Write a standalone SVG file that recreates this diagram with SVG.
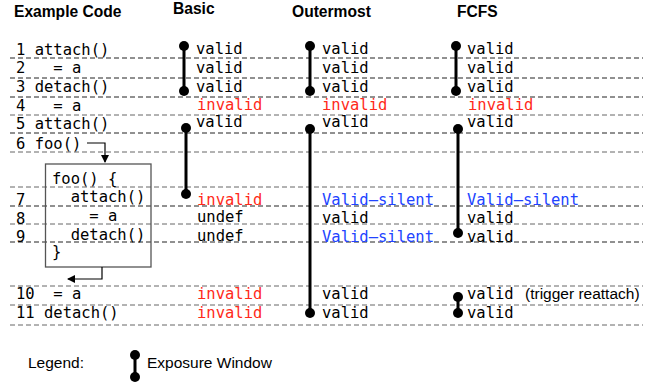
<svg xmlns="http://www.w3.org/2000/svg" width="653" height="383" viewBox="0 0 653 383">
<style>
.hd{font-family:"Liberation Sans",Arial,sans-serif;font-weight:bold;font-size:15.6px;fill:#000}
.sn{font-family:"Liberation Sans",Arial,sans-serif;font-size:15.5px;fill:#000}
.m{font-family:"DejaVu Sans Mono",monospace;font-size:15.5px;fill:#000;white-space:pre}
.r{fill:#ff2a1a}
.b{fill:#2244ff}
.dk{stroke:#222;stroke-width:1;stroke-dasharray:5,3;fill:none}
.gr{stroke:#666;stroke-width:1;stroke-dasharray:5,3;fill:none}
.win{stroke:#000;stroke-width:3;fill:none}
.dot{fill:#000}
.arr{stroke:#000;stroke-width:1.2;fill:none}
</style>
<defs>
<marker id="ah" markerWidth="8" markerHeight="8" refX="7" refY="4" orient="auto" markerUnits="userSpaceOnUse">
<path d="M0,0 L8,4 L0,8 z" fill="#000"/>
</marker>
</defs>
<rect width="653" height="383" fill="#fff"/>

<g id="headers">
<text class="hd" x="14" y="17">Example Code</text>
<text class="hd" x="173" y="14">Basic</text>
<text class="hd" x="292" y="17">Outermost</text>
<text class="hd" x="457" y="17">FCFS</text>
</g>

<g id="rowlines">
<line class="dk" x1="10" y1="58" x2="643" y2="58"/>
<line class="dk" x1="10" y1="78" x2="643" y2="78"/>
<line class="dk" x1="10" y1="97" x2="643" y2="97"/>
<line class="gr" x1="10" y1="115" x2="643" y2="115"/>
<line class="dk" x1="10" y1="133" x2="643" y2="133"/>
<line class="gr" x1="10" y1="152" x2="643" y2="152"/>
<line class="gr" x1="10" y1="187" x2="643" y2="187"/>
<line class="dk" x1="10" y1="206" x2="643" y2="206"/>
<line class="gr" x1="10" y1="224" x2="643" y2="224"/>
<line class="dk" x1="10" y1="242" x2="643" y2="242"/>
<line class="gr" x1="10" y1="286" x2="643" y2="286"/>
<line class="gr" x1="10" y1="305" x2="643" y2="305"/>
<line class="gr" x1="10" y1="325" x2="643" y2="325"/>
</g>

<g id="code">
<text class="m" x="16" y="55">1 attach()</text>
<text class="m" x="16" y="73">2   = a</text>
<text class="m" x="16" y="92">3 detach()</text>
<text class="m" x="16" y="111">4   = a</text>
<text class="m" x="16" y="129">5 attach()</text>
<text class="m" x="16" y="149">6 foo()</text>
<text class="m" x="16" y="205">7</text>
<text class="m" x="16" y="224">8</text>
<text class="m" x="16" y="242">9</text>
<text class="m" x="16" y="299">10  = a</text>
<text class="m" x="16" y="318">11 detach()</text>
</g>

<g id="foo-box">
<rect x="45.5" y="164" width="105.5" height="103" fill="none" stroke="#555" stroke-width="1.3"/>
<text class="m" x="52" y="184">foo() {</text>
<text class="m" x="52" y="202">  attach()</text>
<text class="m" x="52" y="221">    = a</text>
<text class="m" x="52" y="240">  detach()</text>
<text class="m" x="52" y="257">}</text>
</g>

<g id="connectors">
<path class="arr" d="M87,143 H105 V162" marker-end="url(#ah)"/>
<path class="arr" d="M102,267 V279 H68" marker-end="url(#ah)"/>
</g>

<g id="basic">
<line class="win" x1="184" y1="46" x2="184" y2="91"/>
<circle class="dot" cx="184" cy="46" r="5"/>
<circle class="dot" cx="184" cy="91" r="5"/>
<line class="win" x1="186" y1="128" x2="186" y2="194"/>
<circle class="dot" cx="186" cy="128" r="5"/>
<circle class="dot" cx="186" cy="194" r="5"/>
<text class="m" x="196" y="54">valid</text>
<text class="m" x="196" y="73">valid</text>
<text class="m" x="196" y="92">valid</text>
<text class="m r" x="197" y="110">invalid</text>
<text class="m" x="196" y="127">valid</text>
<text class="m r" x="197" y="205">invalid</text>
<text class="m" x="197" y="222">undef</text>
<text class="m" x="197" y="241">undef</text>
<text class="m r" x="197" y="299">invalid</text>
<text class="m r" x="197" y="318">invalid</text>
</g>

<g id="outermost">
<line class="win" x1="310" y1="46" x2="310" y2="91"/>
<circle class="dot" cx="310" cy="46" r="5"/>
<circle class="dot" cx="310" cy="91" r="5"/>
<line class="win" x1="310" y1="129" x2="310" y2="313"/>
<circle class="dot" cx="310" cy="129" r="5"/>
<circle class="dot" cx="310" cy="313" r="5"/>
<text class="m" x="322" y="54">valid</text>
<text class="m" x="322" y="73">valid</text>
<text class="m" x="322" y="92">valid</text>
<text class="m r" x="322" y="110">invalid</text>
<text class="m" x="322" y="127">valid</text>
<text class="m b" x="322" y="205">Valid–silent</text>
<text class="m" x="322" y="223">valid</text>
<text class="m b" x="322" y="242">Valid–silent</text>
<text class="m" x="322" y="299">valid</text>
<text class="m" x="322" y="318">valid</text>
</g>

<g id="fcfs">
<line class="win" x1="456" y1="46" x2="456" y2="91"/>
<circle class="dot" cx="456" cy="46" r="5"/>
<circle class="dot" cx="456" cy="91" r="5"/>
<line class="win" x1="458" y1="129" x2="458" y2="233"/>
<circle class="dot" cx="458" cy="129" r="5"/>
<circle class="dot" cx="458" cy="233" r="5"/>
<line class="win" x1="458" y1="297" x2="458" y2="313"/>
<circle class="dot" cx="458" cy="297" r="5"/>
<circle class="dot" cx="458" cy="313" r="5"/>
<text class="m" x="467" y="54">valid</text>
<text class="m" x="467" y="73">valid</text>
<text class="m" x="467" y="92">valid</text>
<text class="m r" x="468" y="110">invalid</text>
<text class="m" x="467" y="127">valid</text>
<text class="m b" x="467" y="205">Valid–silent</text>
<text class="m" x="467" y="223">valid</text>
<text class="m" x="467" y="242">valid</text>
<text class="m" x="467" y="299">valid</text>
<text class="sn" x="525" y="299">(trigger reattach)</text>
<text class="m" x="467" y="318">valid</text>
</g>

<g id="legend">
<text class="sn" x="28" y="368">Legend:</text>
<line class="win" x1="135" y1="355" x2="135" y2="377"/>
<circle class="dot" cx="135" cy="355" r="5"/>
<circle class="dot" cx="135" cy="377" r="5"/>
<text class="sn" x="147" y="368">Exposure Window</text>
</g>
</svg>
